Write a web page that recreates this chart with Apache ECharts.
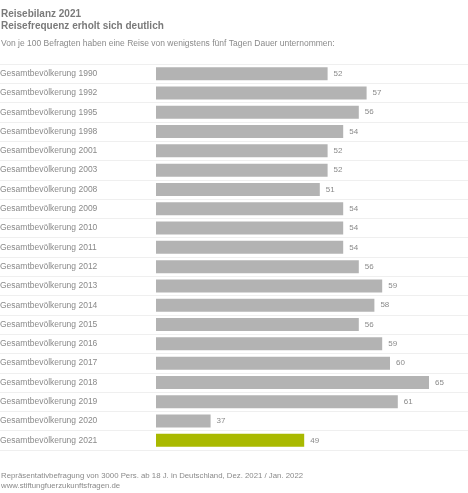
<!DOCTYPE html>
<html>
<head>
<meta charset="utf-8">
<script src="https://cdn.jsdelivr.net/npm/echarts@6/dist/echarts.min.js"></script>
<style>
  html, body { margin: 0; padding: 0; background: #fff; }
  #chart { width: 468px; height: 493px; }
</style>
</head>
<body>
<div id="chart"></div>
<script>
const categories = [
  "Gesamtbevölkerung 1990", "Gesamtbevölkerung 1992", "Gesamtbevölkerung 1995",
  "Gesamtbevölkerung 1998", "Gesamtbevölkerung 2001", "Gesamtbevölkerung 2003",
  "Gesamtbevölkerung 2008", "Gesamtbevölkerung 2009", "Gesamtbevölkerung 2010",
  "Gesamtbevölkerung 2011", "Gesamtbevölkerung 2012", "Gesamtbevölkerung 2013",
  "Gesamtbevölkerung 2014", "Gesamtbevölkerung 2015", "Gesamtbevölkerung 2016",
  "Gesamtbevölkerung 2017", "Gesamtbevölkerung 2018", "Gesamtbevölkerung 2019",
  "Gesamtbevölkerung 2020", "Gesamtbevölkerung 2021"
];
const values = [52, 57, 56, 54, 52, 52, 51, 54, 54, 54, 56, 59, 58, 56, 59, 60, 65, 61, 37, 49];
const highlightYear = "Gesamtbevölkerung 2021";

const grey = "#b3b3b3";
const green = "#a9b900";
const textGrey = "#8a8a8a";

const chart = echarts.init(document.getElementById("chart"));
chart.setOption({
  animation: false,
  textStyle: { fontFamily: "Liberation Sans, Arial, sans-serif" },
  title: [
    { text: "Reisebilanz 2021", left: 1, top: 9, padding: 0,
      textStyle: { fontSize: 10, fontWeight: "bold", color: "#7a7a7a" } },
    { text: "Reisefrequenz erholt sich deutlich", left: 1, top: 21, padding: 0,
      textStyle: { fontSize: 10, fontWeight: "bold", color: "#7a7a7a" } },
    { text: "Von je 100 Befragten haben eine Reise von wenigstens fünf Tagen Dauer unternommen:", left: 1, top: 39, padding: 0,
      textStyle: { fontSize: 8.5, fontWeight: "normal", color: textGrey } },
    { text: "Repräsentativbefragung von 3000 Pers. ab 18 J. in Deutschland, Dez. 2021 / Jan. 2022\nwww.stiftungfuerzukunftsfragen.de",
      left: 1, top: 471, padding: 0,
      textStyle: { fontSize: 7.8, fontWeight: "normal", color: textGrey, lineHeight: 10 } }
  ],
  grid: { left: 156, right: 0, top: 64, bottom: 43, outerBoundsMode: "none" },
  xAxis: {
    type: "value", min: 30, max: 70,
    show: false
  },
  yAxis: {
    type: "category",
    data: categories,
    inverse: true,
    axisLine: { show: false },
    axisTick: { show: true, length: 156, lineStyle: { color: "#efefef", width: 1 } },
    splitLine: { show: true, lineStyle: { color: "#efefef", width: 1 } },
    axisLabel: { align: "left", margin: 156, color: textGrey, fontSize: 8.5 }
  },
  series: [{
    type: "bar",
    barWidth: 13,
    data: values.map((v, i) => ({
      value: v,
      itemStyle: { color: categories[i] === highlightYear ? green : grey }
    })),
    label: { show: true, position: "right", distance: 6, color: textGrey, fontSize: 8 }
  }]
});
</script>
</body>
</html>
